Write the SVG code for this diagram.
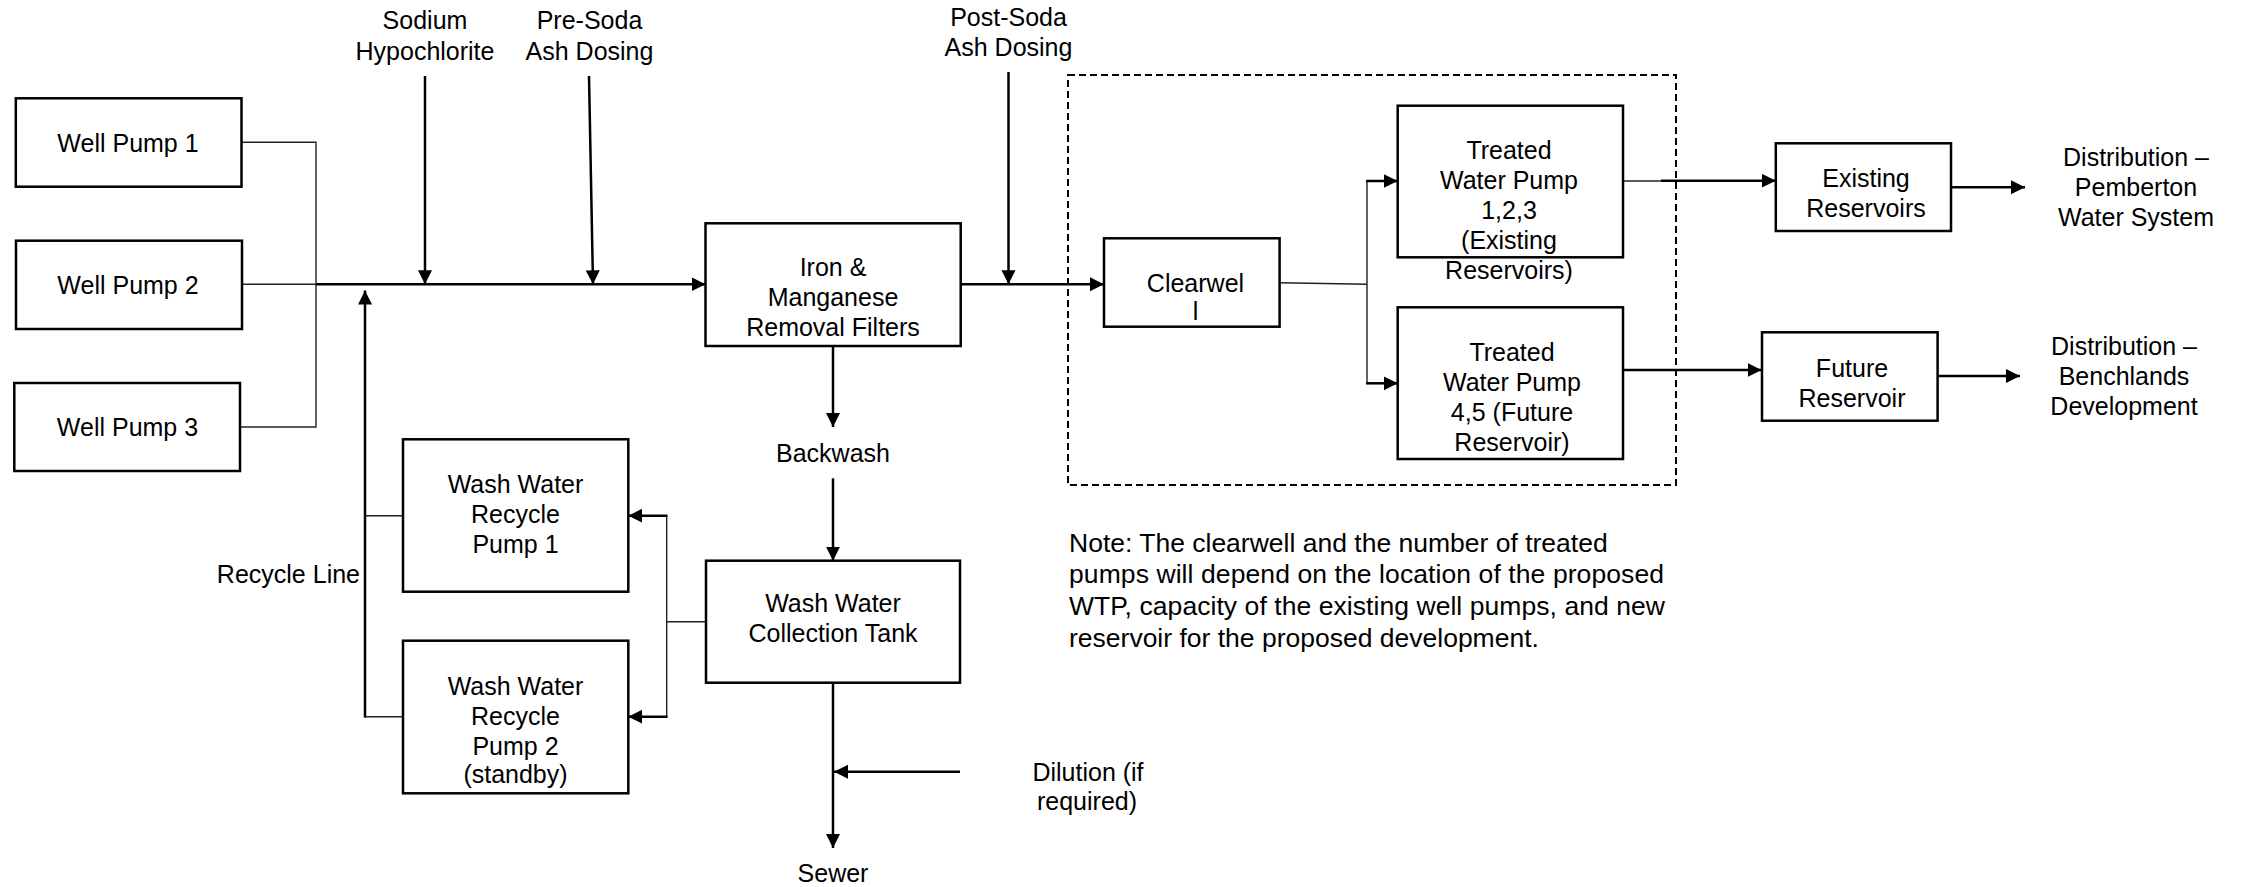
<svg xmlns="http://www.w3.org/2000/svg" width="2244" height="887" viewBox="0 0 2244 887">
<style>
.box{fill:#fff;stroke:#000;stroke-width:2.5}
.t{font-family:"Liberation Sans",Arial,sans-serif;font-size:25px;fill:#000;text-anchor:middle}
.tl{font-family:"Liberation Sans",Arial,sans-serif;font-size:25px;fill:#000}
.note{font-family:"Liberation Sans",Arial,sans-serif;font-size:26.5px;fill:#000}
.thick{fill:none;stroke:#000;stroke-width:2.5}
.thin{fill:none;stroke:#222;stroke-width:1.4}
.arr{marker-end:url(#ah)}
</style>
<defs>
<marker id="ah" markerUnits="userSpaceOnUse" markerWidth="15" markerHeight="15" refX="14" refY="7" orient="auto">
<path d="M0,0 L14,7 L0,14 z" fill="#000"/>
</marker>
</defs>
<rect x="0" y="0" width="2244" height="887" fill="#fff"/>

<g id="connectors">
<polyline class="thin" points="241.5,142.3 316,142.3 316,427 240,427"/>
<line class="thin" x1="242" y1="284.3" x2="316" y2="284.3"/>
<line class="thick arr" x1="316" y1="284.3" x2="705.5" y2="284.3"/>
<line class="thick arr" x1="425" y1="76" x2="425" y2="284.3"/>
<line class="thick arr" x1="589" y1="76" x2="593" y2="284.3"/>
<line class="thick arr" x1="1008.5" y1="72" x2="1008.5" y2="284.3"/>
<line class="thick arr" x1="960.7" y1="284.3" x2="1104" y2="284.3"/>
<line class="thin" x1="1279.6" y1="282.7" x2="1367" y2="284.3"/>
<line class="thin" x1="1367" y1="181" x2="1367" y2="383.3"/>
<line class="thick arr" x1="1366" y1="181" x2="1397.7" y2="181"/>
<line class="thick arr" x1="1366" y1="383.3" x2="1397.7" y2="383.3"/>
<line class="thin" x1="1623" y1="181" x2="1661" y2="181"/>
<line class="thick arr" x1="1661" y1="180.7" x2="1775.8" y2="180.7"/>
<line class="thick arr" x1="1611" y1="370" x2="1761.5" y2="370"/>
<line class="thick arr" x1="1951" y1="187.3" x2="2025" y2="187.3"/>
<line class="thick arr" x1="1937.6" y1="376" x2="2020" y2="376"/>
<line class="thick arr" x1="833" y1="346" x2="833" y2="427"/>
<line class="thick arr" x1="833" y1="478.3" x2="833" y2="560.7"/>
<line class="thick arr" x1="833" y1="682.7" x2="833" y2="848"/>
<line class="thick arr" x1="960" y1="771.7" x2="834" y2="771.7"/>
<line class="thin" x1="706" y1="621.7" x2="666.7" y2="621.7"/>
<line class="thin" x1="666.7" y1="515.7" x2="666.7" y2="716.7"/>
<line class="thick arr" x1="667.5" y1="515.7" x2="628.3" y2="515.7"/>
<line class="thick arr" x1="667.5" y1="716.7" x2="628.3" y2="716.7"/>
<line class="thin" x1="403" y1="515.7" x2="365" y2="515.7"/>
<line class="thin" x1="403" y1="716.7" x2="364" y2="716.7"/>
<line class="thick arr" x1="365" y1="717.5" x2="365" y2="290.5"/>
</g>

<rect id="boundary" x="1068" y="75" width="608" height="410" fill="none" stroke="#000" stroke-width="2" stroke-dasharray="7 4"/>

<g id="well-pump-1"><rect class="box" x="15.8" y="98.3" width="225.7" height="88.4"/><text class="t" x="128" y="151.7">Well Pump 1</text></g>
<g id="well-pump-2"><rect class="box" x="16" y="240.7" width="226" height="88.3"/><text class="t" x="128" y="293.5">Well Pump 2</text></g>
<g id="well-pump-3"><rect class="box" x="14.3" y="383" width="225.7" height="88"/><text class="t" x="127.5" y="436">Well Pump 3</text></g>

<g id="sodium-hypochlorite"><text class="t" x="425" y="29"><tspan x="425">Sodium</tspan><tspan x="425" y="60">Hypochlorite</tspan></text></g>
<g id="pre-soda"><text class="t" x="589.5" y="29"><tspan x="589.5">Pre-Soda</tspan><tspan x="589.5" y="60">Ash Dosing</tspan></text></g>
<g id="post-soda"><text class="t" x="1008.5" y="26"><tspan x="1008.5">Post-Soda</tspan><tspan x="1008.5" y="56">Ash Dosing</tspan></text></g>

<g id="iron-filters"><rect class="box" x="705.5" y="223.3" width="255.2" height="122.7"/><text class="t" y="276"><tspan x="833">Iron &amp;</tspan><tspan x="833" y="306">Manganese</tspan><tspan x="833" y="336">Removal Filters</tspan></text></g>

<g id="backwash"><text class="t" x="833" y="461.7">Backwash</text></g>

<g id="collection-tank"><rect class="box" x="706" y="560.7" width="254" height="122"/><text class="t" y="611.7"><tspan x="833">Wash Water</tspan><tspan x="833" y="641.7">Collection Tank</tspan></text></g>

<g id="sewer"><text class="t" x="833" y="882">Sewer</text></g>
<g id="dilution"><text class="t" y="780.5"><tspan x="1088">Dilution (if</tspan><tspan x="1087" y="810">required)</tspan></text></g>

<g id="recycle-pump-1"><rect class="box" x="403" y="439.3" width="225.3" height="152.4"/><text class="t" y="492.7"><tspan x="515.5">Wash Water</tspan><tspan x="515.5" y="523.3">Recycle</tspan><tspan x="515.5" y="553.3">Pump 1</tspan></text></g>
<g id="recycle-pump-2"><rect class="box" x="403" y="640.7" width="225.3" height="152.6"/><text class="t" y="695"><tspan x="515.5">Wash Water</tspan><tspan x="515.5" y="725">Recycle</tspan><tspan x="515.5" y="755">Pump 2</tspan><tspan x="515.5" y="783">(standby)</tspan></text></g>

<g id="recycle-line"><text class="tl" x="360" y="583" text-anchor="end">Recycle Line</text></g>

<g id="clearwell"><rect class="box" x="1104" y="238.3" width="175.6" height="88.4"/><text class="t" y="291.7"><tspan x="1195.5">Clearwel</tspan><tspan x="1195.5" y="320">l</tspan></text></g>

<g id="treated-pump-123"><rect class="box" x="1397.7" y="105.7" width="225.3" height="151.6"/><text class="t" y="159.3"><tspan x="1509">Treated</tspan><tspan x="1509" y="189.3">Water Pump</tspan><tspan x="1509" y="219.3">1,2,3</tspan><tspan x="1509" y="249.3">(Existing</tspan><tspan x="1509" y="279.3">Reservoirs)</tspan></text></g>
<g id="treated-pump-45"><rect class="box" x="1397.7" y="307.3" width="225.3" height="151.7"/><text class="t" y="361"><tspan x="1512">Treated</tspan><tspan x="1512" y="391">Water Pump</tspan><tspan x="1512" y="421">4,5 (Future</tspan><tspan x="1512" y="451">Reservoir)</tspan></text></g>

<g id="existing-reservoirs"><rect class="box" x="1775.8" y="143.3" width="175.2" height="87.7"/><text class="t" y="187.3"><tspan x="1866">Existing</tspan><tspan x="1866" y="217.3">Reservoirs</tspan></text></g>
<g id="future-reservoir"><rect class="box" x="1762" y="332.3" width="175.6" height="88.4"/><text class="t" y="377.3"><tspan x="1852">Future</tspan><tspan x="1852" y="407.3">Reservoir</tspan></text></g>

<g id="dist-pemberton"><text class="t" y="166"><tspan x="2136">Distribution –</tspan><tspan x="2136" y="196">Pemberton</tspan><tspan x="2136" y="226">Water System</tspan></text></g>
<g id="dist-benchlands"><text class="t" y="355"><tspan x="2124">Distribution –</tspan><tspan x="2124" y="385">Benchlands</tspan><tspan x="2124" y="415">Development</tspan></text></g>

<g id="note"><text class="note" y="551.7"><tspan x="1069">Note: The clearwell and the number of treated</tspan><tspan x="1069" y="583.3" textLength="595" lengthAdjust="spacing">pumps will depend on the location of the proposed</tspan><tspan x="1069" y="615" textLength="596" lengthAdjust="spacing">WTP, capacity of the existing well pumps, and new</tspan><tspan x="1069" y="646.7">reservoir for the proposed development.</tspan></text></g>
</svg>
